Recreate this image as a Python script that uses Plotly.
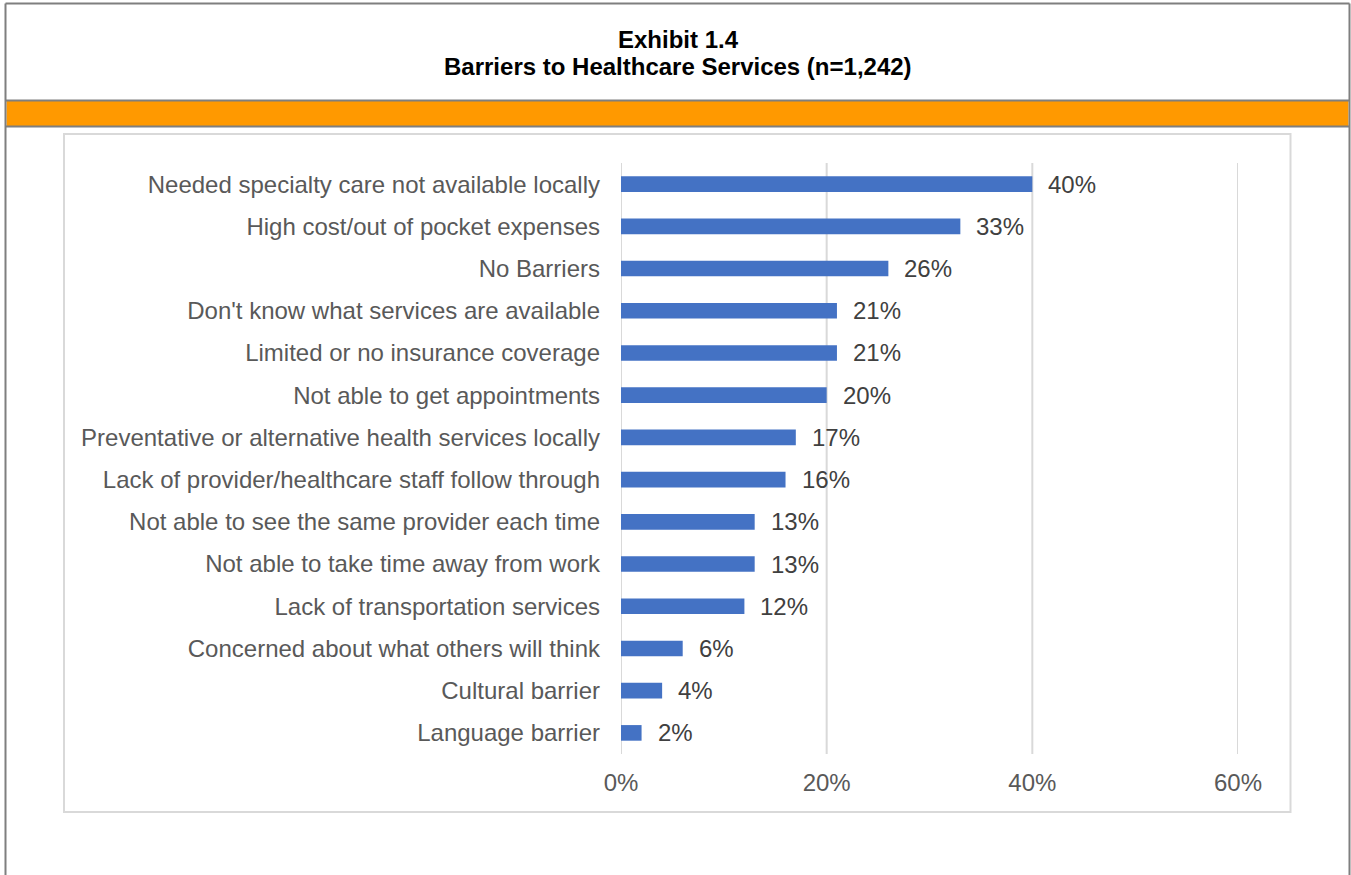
import plotly.graph_objects as go

categories = [
    "Needed specialty care not available locally",
    "High cost/out of pocket expenses",
    "No Barriers",
    "Don't know what services are available",
    "Limited or no insurance coverage",
    "Not able to get appointments",
    "Preventative or alternative health services locally",
    "Lack of provider/healthcare staff follow through",
    "Not able to see the same provider each time",
    "Not able to take time away from work",
    "Lack of transportation services",
    "Concerned about what others will think",
    "Cultural barrier",
    "Language barrier",
]
values = [0.40, 0.33, 0.26, 0.21, 0.21, 0.20, 0.17, 0.16, 0.13, 0.13, 0.12, 0.06, 0.04, 0.02]
x_ticks = [0, 0.2, 0.4, 0.6]
x_tick_labels = ["0%", "20%", "40%", "60%"]
title_line1 = "Exhibit 1.4"
title_line2 = "Barriers to Healthcare Services (n=1,242)"

W, H = 1351, 875
L, R, T, B = 621, 1238, 163, 754  # plot area in pixels

def px(xp):
    return (xp - L) / (R - L)

def py(yp):
    return (B - yp) / (B - T)

FONT = "Liberation Sans, Arial, sans-serif"
FS = 24

fig = go.Figure()
fig.add_trace(go.Bar(
    y=categories, x=values, orientation="h",
    marker=dict(color="#4472C4", line=dict(width=0)),
    width=0.37, hoverinfo="skip",
))

for c, v in zip(categories, values):
    fig.add_annotation(x=v, y=c, xref="x", yref="y", text=f"{round(v*100)}%",
                       showarrow=False, xanchor="left", xshift=14,
                       font=dict(family=FONT, size=FS, color="#404040"))

shapes = []
# gridlines (including edges)
for t in x_ticks:
    shapes.append(dict(type="line", xref="x", yref="paper", x0=t, x1=t, y0=0, y1=1,
                       line=dict(color="#D9D9D9", width=2), layer="below"))
# outer frame
shapes.append(dict(type="line", xref="paper", yref="paper", x0=px(5.5), x1=px(5.5), y0=py(3.5), y1=py(880), line=dict(color="#7F7F7F", width=2)))
shapes.append(dict(type="line", xref="paper", yref="paper", x0=px(1349.5), x1=px(1349.5), y0=py(3.5), y1=py(880), line=dict(color="#7F7F7F", width=2)))
shapes.append(dict(type="line", xref="paper", yref="paper", x0=px(5.5), x1=px(1349.5), y0=py(3.5), y1=py(3.5), line=dict(color="#7F7F7F", width=2)))
# orange band
shapes.append(dict(type="rect", xref="paper", yref="paper", x0=px(6.5), x1=px(1348.5), y0=py(100.5), y1=py(126.5), fillcolor="#FF9900", line=dict(width=0), layer="below"))
shapes.append(dict(type="line", xref="paper", yref="paper", x0=px(5.5), x1=px(1349.5), y0=py(100.5), y1=py(100.5), line=dict(color="#7F7F7F", width=2)))
shapes.append(dict(type="line", xref="paper", yref="paper", x0=px(5.5), x1=px(1349.5), y0=py(126.5), y1=py(126.5), line=dict(color="#7F7F7F", width=2)))
# chart box
shapes.append(dict(type="rect", xref="paper", yref="paper", x0=px(64), x1=px(1290.5), y0=py(134), y1=py(812), line=dict(color="#D9D9D9", width=2), layer="below"))

fig.update_layout(shapes=shapes)

fig.add_annotation(xref="paper", yref="paper", x=px(678), y=py(40), text=f"<b>{title_line1}</b>",
                   showarrow=False, xanchor="center", yanchor="middle",
                   font=dict(family=FONT, size=FS, color="#000000"))
fig.add_annotation(xref="paper", yref="paper", x=px(678), y=py(66), text=f"<b>{title_line2}</b>",
                   showarrow=False, xanchor="center", yanchor="middle",
                   font=dict(family=FONT, size=FS, color="#000000"))

fig.update_layout(
    width=W, height=H,
    margin=dict(l=L, r=W - R, t=T, b=H - B, pad=0),
    paper_bgcolor="white", plot_bgcolor="white",
    showlegend=False,
    font=dict(family=FONT, size=FS, color="#595959"),
    xaxis=dict(range=[0, 0.6], tickvals=x_ticks, ticktext=x_tick_labels,
               showgrid=False, zeroline=False, showline=False, ticks="", ticklen=0,
               ticklabelstandoff=12,
               tickfont=dict(family=FONT, size=FS, color="#595959"), fixedrange=True),
    yaxis=dict(categoryorder="array", categoryarray=categories[::-1],
               showgrid=False, zeroline=False, showline=False, ticks="",
               ticklabelstandoff=20,
               tickfont=dict(family=FONT, size=FS, color="#595959"), fixedrange=True),
)

fig.write_html("out.html", config={"displayModeBar": False})
